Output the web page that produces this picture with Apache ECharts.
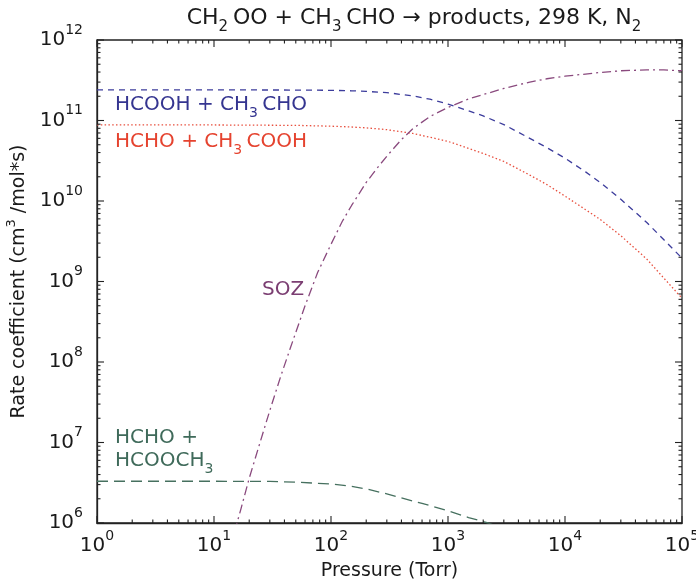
<!DOCTYPE html>
<html><head><meta charset="utf-8">
<script src="https://cdn.jsdelivr.net/npm/echarts@6/dist/echarts.min.js"></script>
<style>html,body{margin:0;padding:0;background:#fff}#c{width:696px;height:580px}</style>
</head><body><div id="c"></div>
<script>
// ---- data (pressure in Torr, k in cm3/mol/s) ----
const pHCOOH = [1, 10, 50, 100, 150, 200, 300, 500, 700, 1000, 1500, 2000, 3000, 5000, 7000, 10000, 15000, 20000, 30000, 50000, 70000, 100000];
const kHCOOH = [2.4e11, 2.4e11, 2.39e11, 2.37e11, 2.34e11, 2.3e11, 2.22e11, 2.02e11, 1.84e11, 1.6e11, 1.32e11, 1.14e11, 8.9e10, 6.0e10, 4.6e10, 3.4e10, 2.3e10, 1.7e10, 1.05e10, 5.4e9, 3.3e9, 1.95e9];

const pHCHO = [1, 10, 50, 100, 150, 200, 300, 500, 700, 1000, 1500, 2000, 3000, 5000, 7000, 10000, 15000, 20000, 30000, 50000, 70000, 100000];
const kHCHO = [8.8e10, 8.8e10, 8.7e10, 8.5e10, 8.3e10, 8.1e10, 7.7e10, 6.9e10, 6.2e10, 5.5e10, 4.5e10, 3.9e10, 3.1e10, 2.1e10, 1.6e10, 1.15e10, 7.8e9, 5.9e9, 3.7e9, 1.9e9, 1.1e9, 6.2e8];

const pSOZ = [15, 17, 20, 25, 30, 37, 45, 60, 77, 100, 125, 150, 200, 250, 300, 400, 500, 700, 1000, 1500, 2000, 3000, 5000, 7000, 10000, 20000, 30000, 50000, 70000, 100000];
const kSOZ = [7.8e5, 1.5e6, 3.6e6, 1.05e7, 2.5e7, 6.5e7, 1.5e8, 5.0e8, 1.3e9, 2.9e9, 5.6e9, 8.8e9, 1.7e10, 2.6e10, 3.6e10, 5.8e10, 7.9e10, 1.12e11, 1.45e11, 1.85e11, 2.1e11, 2.5e11, 3.0e11, 3.3e11, 3.55e11, 3.95e11, 4.15e11, 4.25e11, 4.25e11, 4.15e11];

const pEster = [1, 10, 30, 50, 100, 150, 200, 300, 400, 600, 1000, 1500, 2200, 3000];
const kEster = [3.3e6, 3.3e6, 3.28e6, 3.22e6, 3.05e6, 2.85e6, 2.65e6, 2.3e6, 2.05e6, 1.75e6, 1.42e6, 1.17e6, 1.0e6, 8.5e5];

const xMajor = [1, 10, 100, 1000, 10000, 100000];
const yMajor = [1e6, 1e7, 1e8, 1e9, 1e10, 1e11, 1e12];
const XMIN = 1, XMAX = 1e5, YMIN = 1e6, YMAX = 1e12;

const FONT = 'DejaVu Sans';
const TXT = '#1a1a1a';

// minor tick values (2..9 x 10^n)
function minors(majors) {
  const out = [];
  for (let i = 0; i < majors.length - 1; i++) for (let m = 2; m <= 9; m++) out.push(majors[i] * m);
  return out;
}

const pair = (xs, ys) => xs.map((x, i) => [x, ys[i]]);

const supRich = {
  b: { fontFamily: FONT, fontSize: 20, color: TXT },
  e: { fontFamily: FONT, fontSize: 14, color: TXT, padding: [0, 0, 20, 0] }
};
const powLabel = v => '{b|10}{e|' + Math.round(Math.log10(v)) + '}';

function richTxt(color, size) {
  return {
    n: { fontFamily: FONT, fontSize: size, fill: color },
    s: { fontFamily: FONT, fontSize: Math.round(size * 0.7), fill: color, padding: [Math.round(size * 0.8), 0, 0, 0] }
  };
}
function label(x, y, text, color, size) {
  return { type: 'text', x: x, y: y, z: 10,
    style: { text: text, rich: richTxt(color, size), fill: color, font: size + 'px ' + FONT, align: 'left', verticalAlign: 'middle' } };
}

function lineSeries(name, data, color, dash) {
  return {
    name: name, type: 'line', data: data, showSymbol: false, symbol: 'none',
    smooth: false, clip: true, z: 3,
    lineStyle: { color: color, width: 1.3, type: dash }
  };
}

const chart = echarts.init(document.getElementById('c'), null, { renderer: 'canvas' });
chart.setOption({
  animation: false,
  backgroundColor: '#fff',
  grid: { left: 97, right: 14, top: 40, bottom: 57, outerBoundsMode: 'none', containLabel: false,
    show: true, borderColor: '#222', borderWidth: 1.3, backgroundColor: 'transparent' },
  xAxis: {
    type: 'log', logBase: 10, min: XMIN, max: XMAX, splitNumber: 5,
    axisLine: { show: true, onZero: false, lineStyle: { color: '#222', width: 1.3 } },
    axisTick: { show: false }, splitLine: { show: false }, minorTick: { show: false },
    axisLabel: { formatter: powLabel, rich: supRich, margin: 6, color: TXT },
    name: 'Pressure (Torr)', nameLocation: 'middle', nameGap: 39,
    nameTextStyle: { fontFamily: FONT, fontSize: 19, color: TXT }
  },
  yAxis: {
    type: 'log', logBase: 10, min: YMIN, max: YMAX, splitNumber: 6,
    axisLine: { show: true, onZero: false, lineStyle: { color: '#222', width: 1.3 } },
    axisTick: { show: false }, splitLine: { show: false }, minorTick: { show: false },
    axisLabel: { formatter: powLabel, rich: supRich, margin: 14, color: TXT },
    name: '{n|Rate coefficient (cm}{p|3}{n| /mol*s)}', nameLocation: 'middle', nameGap: 44,
    nameTextStyle: { fontFamily: FONT, fontSize: 19, color: TXT,
      rich: { n: { fontFamily: FONT, fontSize: 19, color: TXT }, p: { fontFamily: FONT, fontSize: 13, color: TXT, padding: [0, 0, 16, 0] } } }
  },
  series: [
    lineSeries('HCOOH + CH3CHO', pair(pHCOOH, kHCOOH), '#3c3c9c', [6, 5]),
    lineSeries('HCHO + CH3COOH', pair(pHCHO, kHCHO), '#e8503f', [1.5, 2.3]),
    lineSeries('SOZ', pair(pSOZ, kSOZ), '#8a4a7e', [9, 4, 2, 4]),
    lineSeries('HCHO + HCOOCH3', pair(pEster, kEster), '#46705f', [11, 6])
  ]
});

// inward ticks on all four sides, positioned through the chart's own log scales
const tickEls = [];
function tickLine(x1, y1, x2, y2) {
  tickEls.push({ type: 'line', silent: true, z: 20,
    shape: { x1: x1, y1: y1, x2: x2, y2: y2 }, style: { stroke: '#222', lineWidth: 1.1 } });
}
function xTick(v, len) {
  const b = chart.convertToPixel({ gridIndex: 0 }, [v, YMIN]);
  const t = chart.convertToPixel({ gridIndex: 0 }, [v, YMAX]);
  tickLine(b[0], b[1], b[0], b[1] - len);
  tickLine(t[0], t[1], t[0], t[1] + len);
}
function yTick(v, len) {
  const l = chart.convertToPixel({ gridIndex: 0 }, [XMIN, v]);
  const r = chart.convertToPixel({ gridIndex: 0 }, [XMAX, v]);
  tickLine(l[0], l[1], l[0] + len, l[1]);
  tickLine(r[0], r[1], r[0] - len, r[1]);
}
xMajor.forEach(v => xTick(v, 7));
minors(xMajor).forEach(v => xTick(v, 3.5));
yMajor.forEach(v => yTick(v, 7));
minors(yMajor).forEach(v => yTick(v, 3.5));

const texts = [
  { type: 'text', x: 414, y: 18, z: 10,
    style: { text: '{n|CH}{s|2 }{n|OO + CH}{s|3 }{n|CHO → products, 298 K, N}{s|2}', rich: richTxt(TXT, 22), fill: TXT, align: 'center', verticalAlign: 'middle' } },
  label(115, 105, '{n|HCOOH + CH}{s|3 }{n|CHO}', '#353590', 20),
  label(115, 142, '{n|HCHO + CH}{s|3 }{n|COOH}', '#e5432f', 20),
  label(262, 290, '{n|SOZ}', '#7b3e72', 20),
  label(115, 438, '{n|HCHO +}', '#3f6a5a', 20),
  label(115, 461, '{n|HCOOCH}{s|3}', '#3f6a5a', 20)
];
chart.setOption({ graphic: texts.concat(tickEls) });
</script></body></html>
